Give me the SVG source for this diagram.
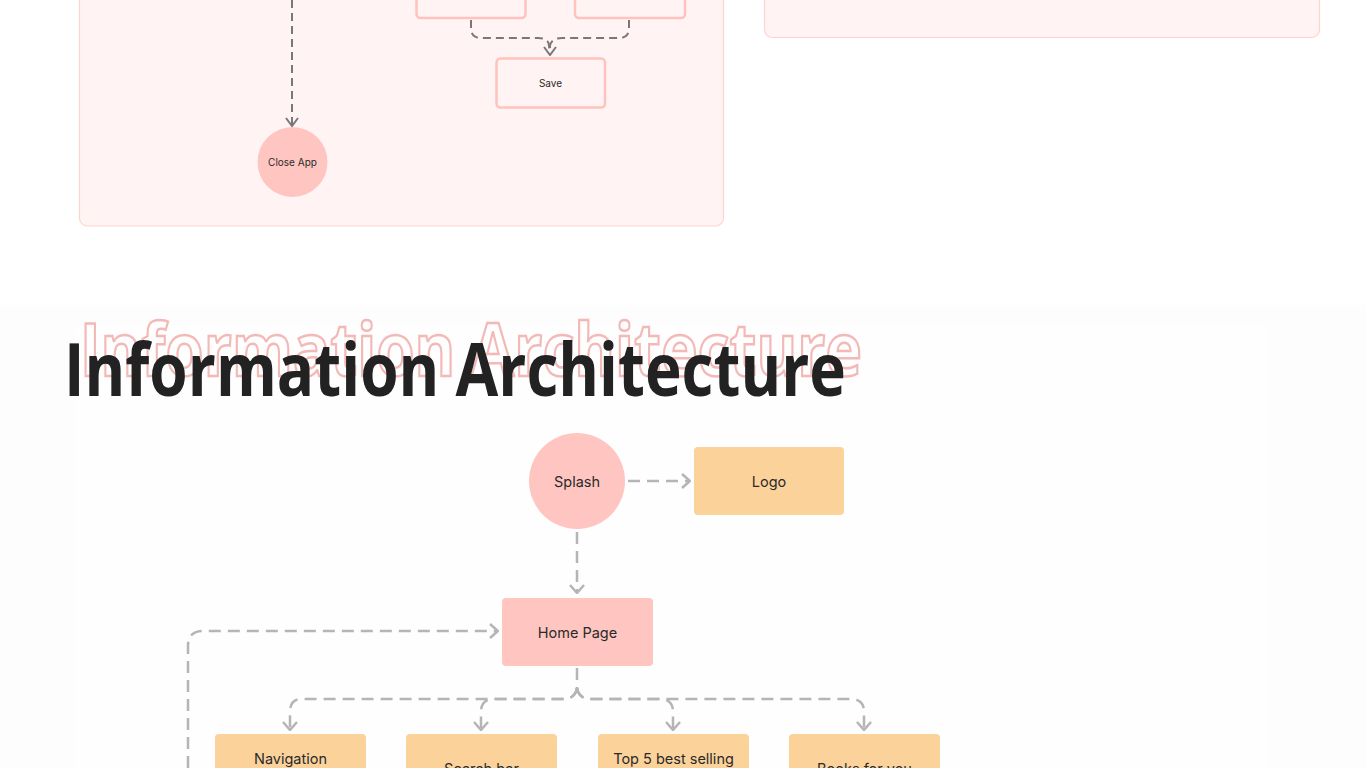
<svg xmlns="http://www.w3.org/2000/svg" width="1366" height="768" viewBox="0 0 1366 768">
  <style>
    .panel { fill: #fff4f3; stroke: #ffd3cf; stroke-width: 1.2; }
    .onode { fill: #fff4f3; stroke: #ffc2bc; stroke-width: 2.5; }
    .pink { fill: #ffc5c0; }
    .orange { fill: #fcd29b; }
    .t-small { font-family: Inter, "Liberation Sans", sans-serif; font-size: 10px; fill: #2a2a2a; text-anchor: middle; dominant-baseline: central; }
    .t-node { font-family: Inter, "Liberation Sans", sans-serif; font-size: 14.5px; fill: #2a2a2a; text-anchor: middle; dominant-baseline: central; }
    .c-dark { fill: none; stroke: #787878; stroke-width: 2; stroke-dasharray: 8 5; }
    .c-light { fill: none; stroke: #b5b5b5; stroke-width: 2.5; stroke-dasharray: 12 7; }
    .title { font-family: "Open Sans", "Noto Sans", sans-serif; font-weight: 700; font-size: 74px; fill: #222222; }
    .title-outline { font-family: "Open Sans", "Noto Sans", sans-serif; font-weight: 700; font-size: 74px; fill: none; stroke: #f3b9b6; stroke-width: 2.5; }
  </style>
  <defs>
    <marker id="arrDark" viewBox="0 0 10 14" refX="9" refY="7" markerWidth="10" markerHeight="14" markerUnits="userSpaceOnUse" orient="auto">
      <path d="M1,1 L9,7 L1,13" fill="none" stroke="#787878" stroke-width="2"/>
    </marker>
    <marker id="arrLight" viewBox="0 0 10 16" refX="9" refY="8" markerWidth="10" markerHeight="16" markerUnits="userSpaceOnUse" orient="auto">
      <path d="M1,1 L9,8 L1,15" fill="none" stroke="#b5b5b5" stroke-width="2.5"/>
    </marker>
  </defs>

  <rect x="0" y="0" width="1366" height="768" fill="#ffffff"/>

  <!-- top panels -->
  <rect class="panel" x="79.5" y="-20" width="644" height="246" rx="8"/>
  <rect class="panel" x="764.5" y="-20" width="555" height="57.5" rx="8"/>

  <!-- lower band background -->
  <rect x="0" y="305" width="1366" height="463" fill="#fdfdfd"/>
  <rect x="75" y="325" width="1193" height="443" fill="#fefefe"/>

  <!-- titles -->
  <text class="title-outline" x="80" y="376" textLength="782" lengthAdjust="spacingAndGlyphs">Information Architecture</text>
  <text class="title" x="64" y="396" textLength="782" lengthAdjust="spacingAndGlyphs">Information Architecture</text>

  <!-- connectors -->
  <g id="connectors">
    <path class="c-dark" d="M292,0 L292,126" marker-end="url(#arrDark)"/>
    <path class="c-dark" d="M471,20 L471,28 Q471,38 481,38 L538,38 Q549,38 549,46 L550,55"/>
    <path class="c-dark" d="M629,20 L629,28 Q629,38 619,38 L562,38 Q551,38 550,46 L550,55" marker-end="url(#arrDark)"/>
    <path class="c-light" d="M628,481 L690,481" marker-end="url(#arrLight)"/>
    <path class="c-light" d="M577,532 L577,593" marker-end="url(#arrLight)"/>
    <path class="c-light" d="M188,768 L188,646 Q188,631 203,631 L498,631" marker-end="url(#arrLight)"/>
    <path class="c-light" d="M577,668 L577,690"/>
    <path class="c-light" d="M577,688 Q575,699 563,699 L302,699 Q290,699 290,712 L290,730" marker-end="url(#arrLight)"/>
    <path class="c-light" d="M577,688 Q575,699 563,699 L494,699 Q481,699 481,712 L481,730" marker-end="url(#arrLight)"/>
    <path class="c-light" d="M577,688 Q579,699 591,699 L660,699 Q673,699 673,712 L673,730" marker-end="url(#arrLight)"/>
    <path class="c-light" d="M577,688 Q579,699 591,699 L851,699 Q864,699 864,712 L864,730" marker-end="url(#arrLight)"/>
  </g>

  <!-- top nodes -->
  <g id="node-top-left"><rect class="onode" x="416.5" y="-20" width="109" height="38" rx="4"/></g>
  <g id="node-top-right"><rect class="onode" x="575" y="-20" width="110" height="38" rx="4"/></g>
  <g id="node-save">
    <rect class="onode" x="496.5" y="58.5" width="108.5" height="49" rx="4"/>
    <text class="t-small" x="550.5" y="83">Save</text>
  </g>
  <g id="node-close-app">
    <circle class="pink" cx="292.5" cy="162" r="35"/>
    <text class="t-small" x="292.5" y="162">Close App</text>
  </g>

  <!-- IA nodes -->
  <g id="node-splash">
    <circle class="pink" cx="577" cy="481" r="48"/>
    <text class="t-node" x="577" y="481">Splash</text>
  </g>
  <g id="node-logo">
    <rect class="orange" x="694" y="447" width="150" height="68" rx="4"/>
    <text class="t-node" x="769" y="481">Logo</text>
  </g>
  <g id="node-home">
    <rect class="pink" x="502" y="598" width="151" height="68" rx="4"/>
    <text class="t-node" x="577.5" y="632">Home Page</text>
  </g>
  <g id="node-navigation">
    <rect class="orange" x="215" y="734" width="151" height="68" rx="4"/>
    <text class="t-node" x="290.5" y="758">Navigation</text>
  </g>
  <g id="node-search">
    <rect class="orange" x="406" y="734" width="151" height="68" rx="4"/>
    <text class="t-node" x="481.5" y="768">Search bar</text>
  </g>
  <g id="node-top5">
    <rect class="orange" x="598" y="734" width="151" height="68" rx="4"/>
    <text class="t-node" x="673.5" y="758">Top 5 best selling</text>
  </g>
  <g id="node-books">
    <rect class="orange" x="789" y="734" width="151" height="68" rx="4"/>
    <text class="t-node" x="864.5" y="768">Books for you</text>
  </g>
</svg>
